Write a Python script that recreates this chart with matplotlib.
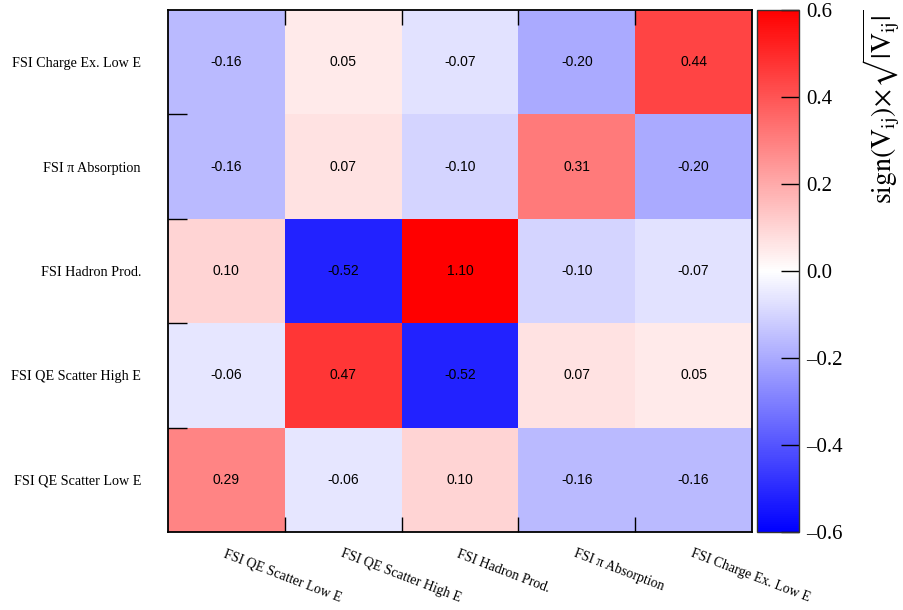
import numpy as np
import matplotlib
matplotlib.use("Agg")
import matplotlib.pyplot as plt
from matplotlib.ticker import FixedLocator

categories = ["FSI QE Scatter Low E", "FSI QE Scatter High E", "FSI Hadron Prod.",
              "FSI \u03c0 Absorption", "FSI Charge Ex. Low E"]
# rows from bottom (index 0) to top, columns left to right
values = [
    [0.29, -0.06, 0.10, -0.16, -0.16],
    [-0.06, 0.47, -0.52, 0.07, 0.05],
    [0.10, -0.52, 1.10, -0.10, -0.07],
    [-0.16, 0.07, -0.10, 0.31, -0.20],
    [-0.16, 0.05, -0.07, -0.20, 0.44],
]
cbar_ticks = [-0.6, -0.4, -0.2, 0.0, 0.2, 0.4, 0.6]

plt.rcParams['mathtext.fontset'] = 'stix'
plt.rcParams['font.family'] = ['Liberation Serif', 'DejaVu Serif']

W, H = 904, 610
fig = plt.figure(figsize=(W / 100, H / 100), dpi=100)
ax = fig.add_axes([168 / W, 1 - 532 / H, (752 - 168) / W, (532 - 10) / H])
cax = fig.add_axes([757 / W, 1 - 532 / H, (799 - 757) / W, (532 - 10) / H])

data = np.array(values)
n = len(categories)
edges = np.arange(n + 1)
mesh = ax.pcolormesh(edges, edges, data, cmap='bwr', vmin=-0.6, vmax=0.6)

for i in range(n):
    for j in range(n):
        ax.text(j + 0.5, i + 0.5, f"{data[i, j]:.2f}", ha='center', va='center',
                fontsize=10, family=['Liberation Sans', 'DejaVu Sans'], color='black')

ax.set_xlim(0, n)
ax.set_ylim(0, n)
centers = np.arange(n) + 0.5
ax.set_xticks(centers)
ax.set_yticks(centers)
ax.set_xticklabels(categories, rotation=-21, ha='left', va='top',
                   rotation_mode='anchor', fontsize=10)
ax.set_yticklabels(categories, fontsize=10.2)
ax.tick_params(axis='both', which='major', length=0)
ax.tick_params(axis='x', which='major', pad=11)
ax.tick_params(axis='y', which='major', pad=19.5)
ax.xaxis.set_minor_locator(FixedLocator(np.arange(1, n)))
ax.yaxis.set_minor_locator(FixedLocator(np.arange(1, n)))
ax.tick_params(axis='x', which='minor', direction='in', length=11, width=1.0,
               top=True, bottom=True)
ax.tick_params(axis='y', which='minor', direction='in', length=14, width=1.0,
               left=True, right=False)
for s in ax.spines.values():
    s.set_linewidth(1.3)
    s.set_color('black')

cb = fig.colorbar(mesh, cax=cax, ticks=cbar_ticks)
cb.outline.set_linewidth(1.0)
cb.outline.set_edgecolor('#333333')
cax.tick_params(axis='y', direction='in', length=13, width=1.0, labelsize=15,
                right=True, left=False, pad=5)
cax.set_yticklabels([f"{t:.1f}".replace('-', '\u2013') for t in cbar_ticks])

fig.text(881 / W, 1 - 9 / H,
         r'$\mathrm{sign}(\mathrm{V}_{\mathrm{ij}})\!\times\!\sqrt{|\mathrm{V}_{\mathrm{ij}}|}$',
         rotation=90, ha='center', va='top', fontsize=20)

fig.savefig('out.png', dpi=100)
